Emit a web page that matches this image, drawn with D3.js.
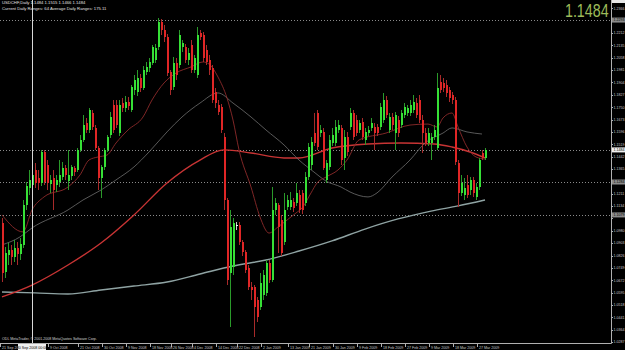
<!DOCTYPE html>
<html>
<head>
<meta charset="utf-8">
<script src="https://cdn.jsdelivr.net/npm/d3@7"></script>
<style>
  body { margin: 0; background: #000; }
  svg { display: block; font-family: "Liberation Sans", Arial, sans-serif; }
</style>
</head>
<body>
<svg></svg>
<script>
// ─── DATA ────────────────────────────────────────────────────────────────────

// daily bars (Sun–Fri, broker time)
const firstDay = "2008-09-21";
const holidays = ["2008-12-25", "2009-01-01"];

const opens = [1.1029,1.0723,1.0829,1.0861,1.0817,1.0873,1.0836,1.0892,1.1141,1.1247,1.1265,1.1359,1.1309,1.1278,1.1471,1.1390,1.1272,1.1309,1.1265,1.1284,1.1315,1.1371,1.1290,1.1321,1.1371,1.1359,1.1484,1.1546,1.1652,1.1608,1.1714,1.1621,1.1496,1.1309,1.1378,1.1484,1.1577,1.1764,1.1764,1.1589,1.1776,1.1745,1.1783,1.1733,1.1857,1.1845,1.1932,1.1870,1.1969,1.1994,1.2026,1.2044,1.2125,1.2281,1.2231,1.2188,1.1969,1.1876,1.2026,1.2013,1.2125,1.2125,1.2044,1.2138,1.1982,1.1951,1.2212,1.2200,1.2107,1.2044,1.1994,1.1845,1.1764,1.1751,1.1565,1.1172,1.0717,1.0755,1.1016,1.1016,1.0910,1.0848,1.0748,1.0630,1.0630,1.0549,1.0505,1.0580,1.0593,1.0780,1.0674,1.1110,1.1141,1.1047,1.0910,1.1128,1.1128,1.1160,1.1153,1.1203,1.1216,1.1153,1.1315,1.1390,1.1589,1.1714,1.1589,1.1596,1.1297,1.1378,1.1527,1.1527,1.1608,1.1621,1.1434,1.1565,1.1627,1.1714,1.1670,1.1608,1.1658,1.1546,1.1589,1.1621,1.1627,1.1627,1.1627,1.1670,1.1795,1.1608,1.1689,1.1589,1.1670,1.1639,1.1702,1.1714,1.1714,1.1733,1.1776,1.1795,1.1670,1.1589,1.1527,1.1527,1.1565,1.1496,1.1907,1.1901,1.1888,1.1857,1.1826,1.1795,1.1402,1.1216,1.1203,1.1265,1.1234,1.1297,1.1191,1.1253,1.1465,1.1434];
const highs = [1.1060,1.0879,1.0904,1.0892,1.0923,1.0910,1.0935,1.1172,1.1284,1.1359,1.1390,1.1402,1.1359,1.1484,1.1484,1.1421,1.1328,1.1359,1.1328,1.1421,1.1409,1.1390,1.1484,1.1390,1.1384,1.1496,1.1577,1.1702,1.1683,1.1745,1.1733,1.1639,1.1508,1.1390,1.1496,1.1577,1.1720,1.1795,1.1795,1.1795,1.1807,1.1820,1.1814,1.1888,1.1951,1.1982,1.1957,1.2007,1.2032,1.2057,1.2138,1.2144,1.2306,1.2300,1.2262,1.2206,1.1982,1.2063,1.2057,1.2231,1.2169,1.2144,1.2119,1.2169,1.2075,1.2250,1.2231,1.2219,1.2138,1.2075,1.2013,1.1870,1.1795,1.1770,1.1589,1.1184,1.1110,1.1060,1.1035,1.1035,1.0923,1.0861,1.0767,1.0661,1.0642,1.0568,1.0717,1.0736,1.0798,1.0798,1.1253,1.1184,1.1153,1.1079,1.1216,1.1203,1.1222,1.1184,1.1278,1.1234,1.1234,1.1346,1.1527,1.1565,1.1714,1.1733,1.1639,1.1621,1.1421,1.1577,1.1621,1.1670,1.1670,1.1639,1.1608,1.1596,1.1745,1.1733,1.1702,1.1670,1.1683,1.1621,1.1633,1.1683,1.1652,1.1645,1.1776,1.1839,1.1820,1.1714,1.1714,1.1720,1.1695,1.1733,1.1776,1.1764,1.1795,1.1826,1.1807,1.1826,1.1702,1.1621,1.1621,1.1589,1.1639,1.1963,1.1951,1.1932,1.1920,1.1876,1.1845,1.1814,1.1421,1.1328,1.1309,1.1328,1.1315,1.1315,1.1278,1.1434,1.1484,1.1496];
const lows = [1.0661,1.0686,1.0767,1.0767,1.0786,1.0767,1.0798,1.0873,1.1110,1.1203,1.1234,1.1247,1.1234,1.1259,1.1265,1.1234,1.1216,1.1110,1.1222,1.1253,1.1297,1.1297,1.1234,1.1297,1.1321,1.1346,1.1471,1.1533,1.1589,1.1589,1.1608,1.1484,1.1234,1.1184,1.1359,1.1471,1.1558,1.1589,1.1621,1.1571,1.1720,1.1720,1.1733,1.1720,1.1826,1.1820,1.1845,1.1857,1.1951,1.1969,1.2013,1.2026,1.2107,1.2200,1.2156,1.1944,1.1826,1.1857,1.1920,1.1994,1.2094,1.2026,1.2013,1.1963,1.1963,1.1932,1.2169,1.2032,1.2013,1.1951,1.1776,1.1745,1.1702,1.1589,1.1110,1.0642,1.0381,1.0705,1.0985,1.0892,1.0823,1.0717,1.0611,1.0549,1.0319,1.0412,1.0487,1.0549,1.0574,1.0655,1.0661,1.1079,1.0842,1.0823,1.0892,1.1110,1.1110,1.1097,1.1135,1.1091,1.1085,1.1135,1.1297,1.1359,1.1508,1.1484,1.1565,1.1359,1.1278,1.1359,1.1508,1.1508,1.1589,1.1390,1.1359,1.1446,1.1608,1.1546,1.1571,1.1589,1.1546,1.1515,1.1571,1.1602,1.1484,1.1571,1.1608,1.1652,1.1683,1.1589,1.1608,1.1484,1.1565,1.1621,1.1683,1.1695,1.1695,1.1714,1.1683,1.1652,1.1465,1.1508,1.1508,1.1421,1.1546,1.1484,1.1839,1.1845,1.1814,1.1783,1.1770,1.1390,1.1128,1.1197,1.1172,1.1184,1.1203,1.1191,1.1172,1.1234,1.1421,1.1421];
const closes = [1.0717,1.0842,1.0861,1.0817,1.0873,1.0836,1.0898,1.1141,1.1259,1.1297,1.1328,1.1278,1.1278,1.1471,1.1284,1.1278,1.1297,1.1234,1.1297,1.1328,1.1371,1.1328,1.1328,1.1378,1.1346,1.1484,1.1546,1.1639,1.1608,1.1733,1.1627,1.1496,1.1309,1.1378,1.1484,1.1565,1.1689,1.1608,1.1639,1.1764,1.1745,1.1783,1.1758,1.1876,1.1920,1.1932,1.1870,1.1982,1.2001,1.2032,1.2125,1.2119,1.2281,1.2231,1.2188,1.1963,1.1857,1.2026,1.1951,1.2200,1.2150,1.2044,1.2088,1.1982,1.2057,1.2200,1.2188,1.2057,1.2032,1.1982,1.1795,1.1776,1.1720,1.1608,1.1172,1.0674,1.1004,1.1029,1.1016,1.0910,1.0848,1.0736,1.0630,1.0611,1.0505,1.0443,1.0655,1.0705,1.0780,1.0674,1.1110,1.1153,1.1004,1.0842,1.1110,1.1172,1.1172,1.1122,1.1216,1.1110,1.1110,1.1315,1.1502,1.1533,1.1527,1.1502,1.1608,1.1371,1.1402,1.1546,1.1577,1.1627,1.1639,1.1421,1.1565,1.1471,1.1714,1.1565,1.1589,1.1652,1.1565,1.1596,1.1608,1.1652,1.1589,1.1589,1.1751,1.1795,1.1702,1.1689,1.1639,1.1702,1.1589,1.1714,1.1751,1.1745,1.1764,1.1783,1.1702,1.1670,1.1589,1.1527,1.1589,1.1565,1.1608,1.1870,1.1857,1.1870,1.1839,1.1807,1.1795,1.1409,1.1216,1.1278,1.1247,1.1203,1.1297,1.1216,1.1253,1.1421,1.1434,1.1484];

// moving averages, sampled at bar numbers
const maFastBars = [0,7,10,14,22,26,29,32,35,38,42,47,50,54,58,63,67,69,72,75,77,79,83,86,89,92,95,98,100,103,105,108,112,115,119,128,136,142,145,147,150,152,155,158,161];
const maFastValues = [1.1079,1.0973,1.1110,1.1191,1.1253,1.1328,1.1421,1.1440,1.1452,1.1527,1.1608,1.1689,1.1795,1.1901,1.1963,1.2001,1.2032,1.2019,1.1938,1.1807,1.1670,1.1484,1.1253,1.1066,1.0966,1.1004,1.1047,1.1091,1.1122,1.1216,1.1278,1.1315,1.1359,1.1421,1.1546,1.1589,1.1639,1.1645,1.1627,1.1683,1.1714,1.1627,1.1502,1.1440,1.1427];
const maMidBars = [0,6,10,22,27,33,38,44,49,55,60,66,72,77,83,88,94,99,104,108,113,116,122,125,130,136,141,147,150,155,160];
const maMidValues = [1.0892,1.0942,1.0998,1.1110,1.1172,1.1234,1.1297,1.1378,1.1471,1.1596,1.1689,1.1776,1.1839,1.1776,1.1689,1.1608,1.1515,1.1421,1.1346,1.1290,1.1253,1.1222,1.1191,1.1216,1.1315,1.1421,1.1527,1.1589,1.1621,1.1596,1.1583];
const maSlowBars = [0,10,22,33,44,55,66,74,83,94,99,110,122,133,144,150,156,161];
const maSlowValues = [1.0568,1.0642,1.0767,1.0904,1.1079,1.1278,1.1421,1.1484,1.1465,1.1434,1.1434,1.1496,1.1521,1.1527,1.1521,1.1502,1.1471,1.1434];
const ma200Bars = [0,11,22,33,44,55,66,77,88,99,110,121,132,143,152,161];
const ma200Values = [1.0599,1.0593,1.0586,1.0611,1.0636,1.0661,1.0711,1.0761,1.0798,1.0854,1.0917,1.0991,1.1054,1.1103,1.1135,1.1172];

// horizontal lines drawn on the chart
const hLines = [1.2293, 1.1484, 1.1284, 1.1079];

// price axis labels
const priceTicks = [1.0287,1.0364,1.0441,1.0518,1.0595,1.0672,1.0749,1.0826,1.0903,1.0980,1.1057,1.1134,1.1211,1.1288,1.1365,1.1442,1.1519,1.1596,1.1673,1.1750,1.1827,1.1904,1.1981,1.2058,1.2135,1.2212,1.2289,1.2366];

// time axis labels
const dateLabels = ["21 Sep 2008","9 Oct 2008","21 Oct 2008","30 Oct 2008","9 Nov 2008","18 Nov 2008","26 Nov 2008","4 Dec 2008","14 Dec 2008","22 Dec 2008","2 Jan 2009","13 Jan 2009","21 Jan 2009","30 Jan 2009","9 Feb 2009","18 Feb 2009","27 Feb 2009","9 Mar 2009","18 Mar 2009","27 Mar 2009"];

const symbolLine = "USDCHF,Daily  1.1484 1.1515 1.1466 1.1484";
const rangesLine = "Current Daily Ranges: 64   Average Daily Ranges: 175.11";
const copyright = "ODL MetaTrader, © 2001-2008 MetaQuotes Software Corp.";
const bidPrice = "1.1484";
const cursorBar = 10;
const cursorLabel = "30 Sep 2008 00:00";

// ─── DIMENSIONS & SCALES ─────────────────────────────────────────────────────

const width = 625,
  height = 350,
  axisX = 611,
  axisY = 343,
  small = 3.6; // font size of the tiny terminal texts

const svg = d3.select("svg").attr("width", width).attr("height", height);

svg.append("rect").attr("width", width).attr("height", height).attr("fill", "#000");

const parse = d3.timeParse("%Y-%m-%d");
const key = d3.timeFormat("%Y-%m-%d");
const fmt = d3.timeFormat("%-d %b %Y");
const holidaySet = new Set(holidays);

// calendar of the bars: every day except Saturdays and broker holidays
const dates = [];
for (let d = parse(firstDay); dates.length < closes.length; d = d3.timeDay.offset(d, 1)) {
  if (d.getDay() === 6 || holidaySet.has(key(d))) continue;
  dates.push(d);
}

const bars = closes.map((c, i) => ({
  i,
  date: dates[i],
  o: opens[i],
  h: highs[i],
  l: lows[i],
  c,
}));

const x = d3.scaleLinear().domain([0, bars.length - 1]).range([2, 485]);
const y = d3.scaleLinear().domain([1.0281, 1.2418]).range([axisY, 0]);

svg.append("clipPath").attr("id", "clip")
  .append("rect").attr("width", axisX).attr("height", axisY);

const plot = svg.append("g").attr("clip-path", "url(#clip)");

// ─── HORIZONTAL LINES ────────────────────────────────────────────────────────

plot.append("g")
  .selectAll("line")
  .data(hLines)
  .join("line")
  .attr("x1", 0)
  .attr("x2", axisX)
  .attr("y1", (d) => Math.round(y(d)) + 0.5)
  .attr("y2", (d) => Math.round(y(d)) + 0.5)
  .attr("stroke", "#8a8a8a")
  .attr("stroke-dasharray", "1,2");

// ─── MOVING AVERAGES ─────────────────────────────────────────────────────────

const maLine = d3.line()
  .x((d) => x(d[0]))
  .y((d) => y(d[1]))
  .curve(d3.curveMonotoneX);

const averages = [
  { bars: ma200Bars, values: ma200Values, color: "#8fa3a3", w: 1.4 },
  { bars: maSlowBars, values: maSlowValues, color: "#c83434", w: 1.4 },
  { bars: maMidBars, values: maMidValues, color: "#6e6e6e", w: 0.8 },
  { bars: maFastBars, values: maFastValues, color: "#8c2a2a", w: 0.9 },
];

plot.append("g")
  .attr("fill", "none")
  .selectAll("path")
  .data(averages)
  .join("path")
  .attr("d", (d) => maLine(d3.zip(d.bars, d.values)))
  .attr("stroke", (d) => d.color)
  .attr("stroke-width", (d) => d.w);

// ─── CANDLES ─────────────────────────────────────────────────────────────────

const bodyColor = (d) => (d.c > d.o ? "#36e036" : d.c < d.o ? "#e02626" : "#ffffff");
const wickColor = (d) => (d.c > d.o ? "#2a9a2a" : d.c < d.o ? "#a82a2a" : "#cccccc");

const candle = plot.append("g")
  .attr("shape-rendering", "crispEdges")
  .selectAll("g")
  .data(bars)
  .join("g");

candle.append("line")
  .attr("x1", (d) => x(d.i) + 0.5)
  .attr("x2", (d) => x(d.i) + 0.5)
  .attr("y1", (d) => y(d.h))
  .attr("y2", (d) => y(d.l))
  .attr("stroke", wickColor);

candle.append("rect")
  .attr("x", (d) => x(d.i))
  .attr("width", 2)
  .attr("y", (d) => y(Math.max(d.o, d.c)))
  .attr("height", (d) => Math.max(1, Math.abs(y(d.o) - y(d.c))))
  .attr("fill", bodyColor);

// ─── CURSOR LINE ─────────────────────────────────────────────────────────────

plot.append("line")
  .attr("x1", x(cursorBar) + 0.5)
  .attr("x2", x(cursorBar) + 0.5)
  .attr("y1", 0)
  .attr("y2", axisY)
  .attr("stroke", "#d8d8d8");

// ─── AXES ────────────────────────────────────────────────────────────────────

svg.append("path")
  .attr("d", `M0,${axisY + 0.5}H${axisX + 0.5}V0`)
  .attr("fill", "none")
  .attr("stroke", "#b0b0b0");

// tick labels that would sit under a price box are left out, like the terminal does
const freeTicks = priceTicks.filter(
  (t) => hLines.every((h) => Math.abs(y(t) - y(h)) > 5) && y(t) > 6
);

const yAxis = svg.append("g").attr("font-size", small);

yAxis.selectAll("line")
  .data(priceTicks)
  .join("line")
  .attr("x1", axisX)
  .attr("x2", axisX + 2)
  .attr("y1", (d) => Math.round(y(d)) + 0.5)
  .attr("y2", (d) => Math.round(y(d)) + 0.5)
  .attr("stroke", "#b0b0b0");

yAxis.selectAll("text")
  .data(freeTicks)
  .join("text")
  .attr("x", axisX + 2.5)
  .attr("y", (d) => y(d) + 1.3)
  .attr("fill", "#c8c8c8")
  .text((d) => d.toFixed(4));

// price boxes for horizontal lines and bid
const boxes = hLines.map((v, k) => ({ v, bid: k === 1 }));

const box = svg.append("g").attr("font-size", small);
box.selectAll("rect")
  .data(boxes)
  .join("rect")
  .attr("x", axisX + 1)
  .attr("y", (d) => y(d.v) - 2.5)
  .attr("width", width - axisX - 1)
  .attr("height", 5)
  .attr("fill", (d) => (d.bid ? "#f0f0f0" : "#8a8a8a"));
box.selectAll("text")
  .data(boxes)
  .join("text")
  .attr("x", axisX + 2.5)
  .attr("y", (d) => y(d.v) + 1.3)
  .attr("fill", "#000")
  .text((d) => d.v.toFixed(4));

// top corner box
svg.append("rect")
  .attr("x", axisX + 1).attr("y", 0)
  .attr("width", width - axisX - 1).attr("height", 3)
  .attr("fill", "#e8e8e8");

// time axis
const dateIndex = new Map(bars.map((d) => [fmt(d.date), d.i]));
const dateTicks = dateLabels
  .filter((s) => dateIndex.has(s))
  .map((s) => ({ s, i: dateIndex.get(s) }));

const xAxis = svg.append("g").attr("font-size", small);

xAxis.selectAll("line")
  .data(dateTicks)
  .join("line")
  .attr("x1", (d) => x(d.i) - 1.5)
  .attr("x2", (d) => x(d.i) - 1.5)
  .attr("y1", axisY)
  .attr("y2", axisY + 4)
  .attr("stroke", "#b0b0b0");

xAxis.selectAll("text")
  .data(dateTicks)
  .join("text")
  .attr("x", (d) => x(d.i))
  .attr("y", 348.5)
  .attr("fill", "#c8c8c8")
  .text((d) => d.s);

// cursor date box
const cur = svg.append("g").attr("font-size", small);
cur.append("rect")
  .attr("x", x(cursorBar) - 14)
  .attr("y", axisY + 1)
  .attr("width", 28)
  .attr("height", 6)
  .attr("fill", "#f0f0f0");
cur.append("text")
  .attr("x", x(cursorBar))
  .attr("y", 348.5)
  .attr("text-anchor", "middle")
  .attr("fill", "#000")
  .text(cursorLabel);

// ─── TEXTS ───────────────────────────────────────────────────────────────────

svg.append("text")
  .attr("x", 2).attr("y", 4)
  .attr("font-size", 4.2).attr("fill", "#e0e0e0")
  .text(symbolLine);

svg.append("text")
  .attr("x", 2).attr("y", 9.5)
  .attr("font-size", 4.2).attr("fill", "#e0e0e0")
  .text(rangesLine);

svg.append("text")
  .attr("x", 2).attr("y", 340)
  .attr("font-size", small).attr("fill", "#d0d0d0")
  .text(copyright);

// big bid readout, squeezed horizontally like the terminal font
svg.append("g")
  .attr("transform", "translate(565,16.7) scale(0.77,1)")
  .append("text")
  .attr("font-size", 18.5)
  .attr("fill", "#9dbb5a")
  .text(bidPrice);
</script>
</body>
</html>
